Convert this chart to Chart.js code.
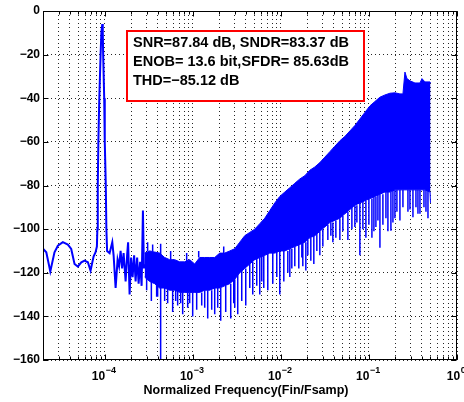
<!DOCTYPE html>
<html>
<head>
<meta charset="utf-8">
<script src="https://cdn.jsdelivr.net/npm/chart.js@4.4.1/dist/chart.umd.min.js"></script>
<style>
  html, body { margin: 0; padding: 0; background: #fff; }
</style>
</head>
<body>
<canvas id="spectrum" width="464" height="402"></canvas>
<script>
// low frequency part: floor, signal tone and 3rd harmonic
const toneFreq = [2.00e-5, 2.18e-5, 2.42e-5, 2.70e-5, 2.95e-5, 3.36e-5, 3.83e-5, 4.18e-5, 4.56e-5, 4.97e-5,
  5.44e-5, 5.93e-5, 6.46e-5, 6.93e-5, 7.50e-5, 7.90e-5, 8.18e-5, 8.28e-5, 8.37e-5, 8.50e-5,
  8.71e-5, 9.01e-5, 9.20e-5, 9.42e-5, 9.54e-5, 9.64e-5, 9.90e-5, 1.005e-4, 1.032e-4, 1.048e-4,
  1.068e-4, 1.140e-4, 1.223e-4, 1.266e-4, 1.334e-4, 1.405e-4, 1.461e-4, 1.520e-4, 1.581e-4, 1.644e-4,
  1.733e-4, 1.802e-4, 1.849e-4, 1.923e-4, 2.000e-4, 2.080e-4, 2.164e-4, 2.250e-4, 2.341e-4, 2.434e-4,
  2.532e-4, 2.633e-4, 2.724e-4, 2.796e-4, 2.848e-4];
const toneDb = [-109, -110.6, -119.4, -110.6, -107.6, -106, -107.1, -109.1, -116, -117.2,
  -115.2, -114.4, -115.2, -119, -112.6, -110.6, -108, -100, -80, -60,
  -40, -20, -10, -6, -10, -20, -40, -60, -80, -100,
  -110, -111, -106, -112, -127, -114, -117, -110, -118, -111,
  -124, -112, -106, -130, -113, -122, -112, -124, -113, -125,
  -115, -126, -91.5, -118, -116];

// noise floor: upper and lower edge of the dense band
const bandFreq = [2.848e-4, 3.25e-4, 3.70e-4, 4.217e-4, 4.806e-4, 5.478e-4, 6.245e-4, 7.117e-4, 8.111e-4, 9.245e-4,
  1.054e-3, 1.201e-3, 1.369e-3, 1.561e-3, 1.778e-3, 2.027e-3, 2.310e-3, 2.634e-3, 3.002e-3, 3.421e-3,
  3.899e-3, 4.444e-3, 5.065e-3, 5.774e-3, 6.579e-3, 7.499e-3, 8.547e-3, 9.741e-3, 1.110e-2, 1.266e-2,
  1.442e-2, 1.644e-2, 1.874e-2, 2.136e-2, 2.434e-2, 2.774e-2, 3.162e-2, 3.604e-2, 4.108e-2, 4.683e-2,
  5.337e-2, 6.083e-2, 6.933e-2, 7.902e-2, 9.006e-2, 0.1027, 0.1170, 0.1334, 0.1520, 0.1733,
  0.1975, 0.2250, 0.2434, 0.2565, 0.2703, 0.2924, 0.3333, 0.3798, 0.4002, 0.4329,
  0.4934, 0.5];
const bandTop = [-111, -110, -110.5, -111, -113, -114, -114, -115, -115, -114,
  -116, -113, -113, -113, -113, -111, -111, -110, -109, -106,
  -103, -101.5, -100, -97.5, -95, -91.5, -88, -85, -83, -81,
  -79, -77, -75.5, -73, -71.5, -69.5, -67, -64.5, -62, -59.5,
  -57.5, -55, -52.5, -49.5, -46.5, -43.5, -41.5, -39.5, -38.5, -37.7,
  -37.5, -38, -38, -28, -31, -32, -33, -33, -31, -32.5,
  -32.5, -33];
const bandBottom = [-122, -124, -125, -127, -127, -128, -128, -129, -129, -129,
  -129, -129, -128, -128, -127, -127, -126, -125, -123, -120,
  -118, -116, -114, -113, -112, -111, -111, -110, -110, -109,
  -108, -107, -106, -104, -103, -101, -99, -97, -96, -95,
  -93, -91, -89, -88, -87, -86, -85, -84, -83, -83,
  -82, -82, -82, -82, -82, -82, -82, -82, -82, -82,
  -83, -88];

// single bins that stick out of the band
const spikeFreq = [3.395e-4, 3.899e-4, 4.329e-4, 4.806e-4, 5.925e-4, 6.754e-4, 7.699e-4, 8.774e-4, 1.000e-3, 1.110e-3,
  1.266e-3, 1.481e-3, 1.778e-3, 2.080e-3, 2.371e-3, 2.703e-3, 3.002e-3, 3.246e-3, 3.604e-3, 4.002e-3,
  4.806e-3, 5.337e-3, 5.774e-3, 6.410e-3, 7.117e-3, 8.111e-3, 9.741e-3, 1.082e-2, 1.266e-2, 1.442e-2,
  1.601e-2, 1.778e-2, 1.924e-2, 2.192e-2, 2.371e-2, 2.774e-2, 3.421e-2, 3.899e-2, 4.683e-2, 5.774e-2,
  6.933e-2, 7.902e-2, 9.245e-2, 0.1082, 0.1201, 0.1334, 0.1644, 0.1778, 0.1975, 0.2250,
  0.2774, 0.3162, 0.3798, 0.4217, 0.4683,
  1.733e-2, 2.027e-2, 2.565e-2, 3.002e-2, 3.700e-2, 4.217e-2, 5.065e-2, 6.410e-2, 7.305e-2, 8.547e-2,
  0.1000, 0.1140, 0.1266, 0.1442, 0.1561, 0.1874, 0.2080, 0.2434, 0.2924, 0.3421,
  0.3604, 0.4444, 1.369e-3, 1.644e-3, 1.924e-3, 2.924e-3, 4.444e-3, 6.083e-3, 9.006e-3, 1.201e-2,
  1.334e-2, 3.002e-4, 4.002e-4, 5.199e-4, 6.410e-4, 7.305e-4, 9.245e-4,
  3.081e-4, 3.512e-4, 5.623e-4, 8.546e-4, 1.170e-3, 2.250e-3];
const spikeFrom = [-124, -125, -106.7, -127, -128, -128, -129, -129, -129, -129,
  -129, -128, -127, -127, -126, -125, -123, -121, -119, -118,
  -115, -113, -113, -112, -111, -111, -110, -110, -109, -108,
  -107, -106, -106, -104, -103, -101, -98, -97, -95, -92,
  -89, -88, -87, -86, -85, -84, -83, -83, -82, -82,
  -82, -82, -82, -82, -82,
  -106, -105, -102, -100, -97, -96, -94, -90, -89, -87,
  -86, -85, -84, -84, -83, -82, -82, -82, -82, -82,
  -82, -82, -128, -128, -127, -123, -116, -112, -110, -110,
  -109, -122, -126, -127, -128, -129, -129,
  -110, -110, -114, -115, -113, -111];
const spikeTo = [-133, -131, -160, -133, -138, -135, -139, -136, -140, -137,
  -135, -141, -139, -142, -138, -141, -136, -139, -133, -135,
  -130, -126, -130, -127, -128, -125, -130, -124, -122, -117,
  -118, -117, -119, -114.5, -116, -112, -105, -106, -105, -105,
  -99, -112, -104, -104, -99, -108.5, -101, -100.7, -95, -96,
  -92, -94.6, -93, -90, -95,
  -113, -112, -110, -108, -103, -104, -101, -100, -97, -100,
  -98, -101, -96, -98, -95, -97, -92, -90, -91, -90,
  -93, -92, -136, -137, -136, -134, -127, -124, -122, -120,
  -118, -128, -131, -134, -133, -134, -134,
  -106, -107, -110, -111, -110, -108];

// axes
const yTicks = [0, -20, -40, -60, -80, -100, -120, -140, -160];
const decadeTicks = [1e-4, 1e-3, 1e-2, 1e-1, 1];
const decadeExp = ['\u22124', '\u22123', '\u22122', '\u22121', '0'];
const minorSteps = [2, 3, 4, 5, 6, 7, 8, 9];
const xTitle = 'Normalized Frequency(Fin/Fsamp)';
const noteLines = ['SNR=87.84 dB, SNDR=83.37 dB', 'ENOB= 13.6 bit,SFDR= 85.63dB', 'THD=\u221285.12 dB'];

const FONT = '"Liberation Sans", Arial, Helvetica, sans-serif';
const BLUE = '#0000ff';

const minorTicks = [];
[1e-5, 1e-4, 1e-3, 1e-2, 1e-1].forEach(d => minorSteps.forEach(s => {
  const v = d * s;
  if (v >= 2e-5 && v < 1) minorTicks.push(v);
}));
const allXTicks = minorTicks.concat(decadeTicks).sort((a, b) => a - b);

const spikeData = [];
spikeFreq.forEach((f, i) => {
  spikeData.push({x: f, y: spikeFrom[i]}, {x: f, y: spikeTo[i]}, {x: f, y: null});
});

// matlab look: box frame, inward ticks, 10^n labels, text box
const matlabAxes = {
  id: 'matlabAxes',
  afterDatasetsDraw(chart) {
    const ctx = chart.ctx;
    ctx.save();
    ctx.fillStyle = '#fff';
    ctx.fillRect(127, 31, 237, 70);
    ctx.strokeStyle = '#ff0000';
    ctx.lineWidth = 2;
    ctx.strokeRect(127, 31, 237, 70);
    ctx.fillStyle = '#000';
    ctx.font = 'bold 14.5px ' + FONT;
    ctx.textBaseline = 'alphabetic';
    noteLines.forEach((t, i) => ctx.fillText(t, 133, 46.7 + i * 19.3));
    ctx.restore();
  },
  afterDraw(chart) {
    const ctx = chart.ctx;
    const a = chart.chartArea;
    const xs = chart.scales.x, ys = chart.scales.y;
    ctx.save();
    ctx.strokeStyle = '#000';
    ctx.lineWidth = 1;
    const L = Math.round(a.left) + 0.5, R = Math.round(a.right) - 0.5;
    const T = Math.round(a.top) + 0.5, B = Math.round(a.bottom) - 0.5;
    ctx.strokeRect(L, T, R - L, B - T);
    ctx.beginPath();
    allXTicks.forEach(v => {
      const px = Math.round(xs.getPixelForValue(v)) + 0.5;
      const len = decadeTicks.includes(v) ? 5 : 3;
      ctx.moveTo(px, B); ctx.lineTo(px, B - len);
      ctx.moveTo(px, T); ctx.lineTo(px, T + len);
    });
    yTicks.forEach(v => {
      const py = Math.round(ys.getPixelForValue(v)) + 0.5;
      ctx.moveTo(L, py); ctx.lineTo(L + 5, py);
      ctx.moveTo(R, py); ctx.lineTo(R - 5, py);
    });
    ctx.stroke();

    ctx.fillStyle = '#000';
    ctx.textBaseline = 'alphabetic';
    decadeTicks.forEach((v, i) => {
      const px = xs.getPixelForValue(v);
      ctx.font = 'bold 12px ' + FONT;
      const w1 = ctx.measureText('10').width;
      ctx.font = 'bold 9px ' + FONT;
      const w2 = ctx.measureText(decadeExp[i]).width;
      const x0 = px - (w1 + w2) / 2 - 1;
      ctx.font = 'bold 12px ' + FONT;
      ctx.fillText('10', x0, 380);
      ctx.font = 'bold 9px ' + FONT;
      ctx.fillText(decadeExp[i], x0 + w1 + 0.5, 373);
    });
    ctx.font = 'bold 12.5px ' + FONT;
    ctx.textAlign = 'center';
    ctx.fillText(xTitle, (a.left + a.right) / 2 - 4, 394);
    ctx.restore();
  }
};

new Chart(document.getElementById('spectrum'), {
  type: 'line',
  data: {
    datasets: [
      {
        data: bandFreq.map((f, i) => ({x: f, y: bandTop[i]})),
        borderColor: BLUE, backgroundColor: BLUE, borderWidth: 1,
        pointRadius: 0, fill: '+1', tension: 0
      },
      {
        data: bandFreq.map((f, i) => ({x: f, y: bandBottom[i]})),
        borderColor: BLUE, borderWidth: 1, pointRadius: 0, fill: false, tension: 0
      },
      {
        data: toneFreq.map((f, i) => ({x: f, y: toneDb[i]})),
        borderColor: BLUE, borderWidth: 2, pointRadius: 0, fill: false, tension: 0
      },
      {
        data: spikeData,
        borderColor: BLUE, borderWidth: 1.5, pointRadius: 0, fill: false, spanGaps: false, tension: 0
      }
    ]
  },
  options: {
    responsive: false,
    animation: false,
    devicePixelRatio: 1,
    layout: { padding: { top: 11, right: 7, left: 0, bottom: 0 } },
    plugins: { legend: { display: false }, tooltip: { enabled: false } },
    scales: {
      x: {
        type: 'logarithmic',
        min: 2e-5,
        max: 1,
        afterBuildTicks: (scale) => { scale.ticks = allXTicks.map(v => ({value: v})); },
        afterFit: (scale) => { scale.height = 42; },
        ticks: { display: false },
        grid: { color: 'rgba(0,0,0,0.85)', lineWidth: 1, drawTicks: false },
        border: { display: false, dash: [1, 3] }
      },
      y: {
        min: -160,
        max: 0,
        afterBuildTicks: (scale) => { scale.ticks = yTicks.map(v => ({value: v})); },
        afterFit: (scale) => { scale.width = 43; },
        ticks: {
          color: '#000',
          padding: 3,
          font: { family: FONT, size: 12, weight: 'bold' },
          callback: (v) => v === 0 ? '0' : '\u2212' + Math.abs(v)
        },
        grid: { color: 'rgba(0,0,0,0.85)', lineWidth: 1, drawTicks: false },
        border: { display: false, dash: [1, 3] }
      }
    }
  },
  plugins: [matlabAxes]
});
</script>
</body>
</html>
